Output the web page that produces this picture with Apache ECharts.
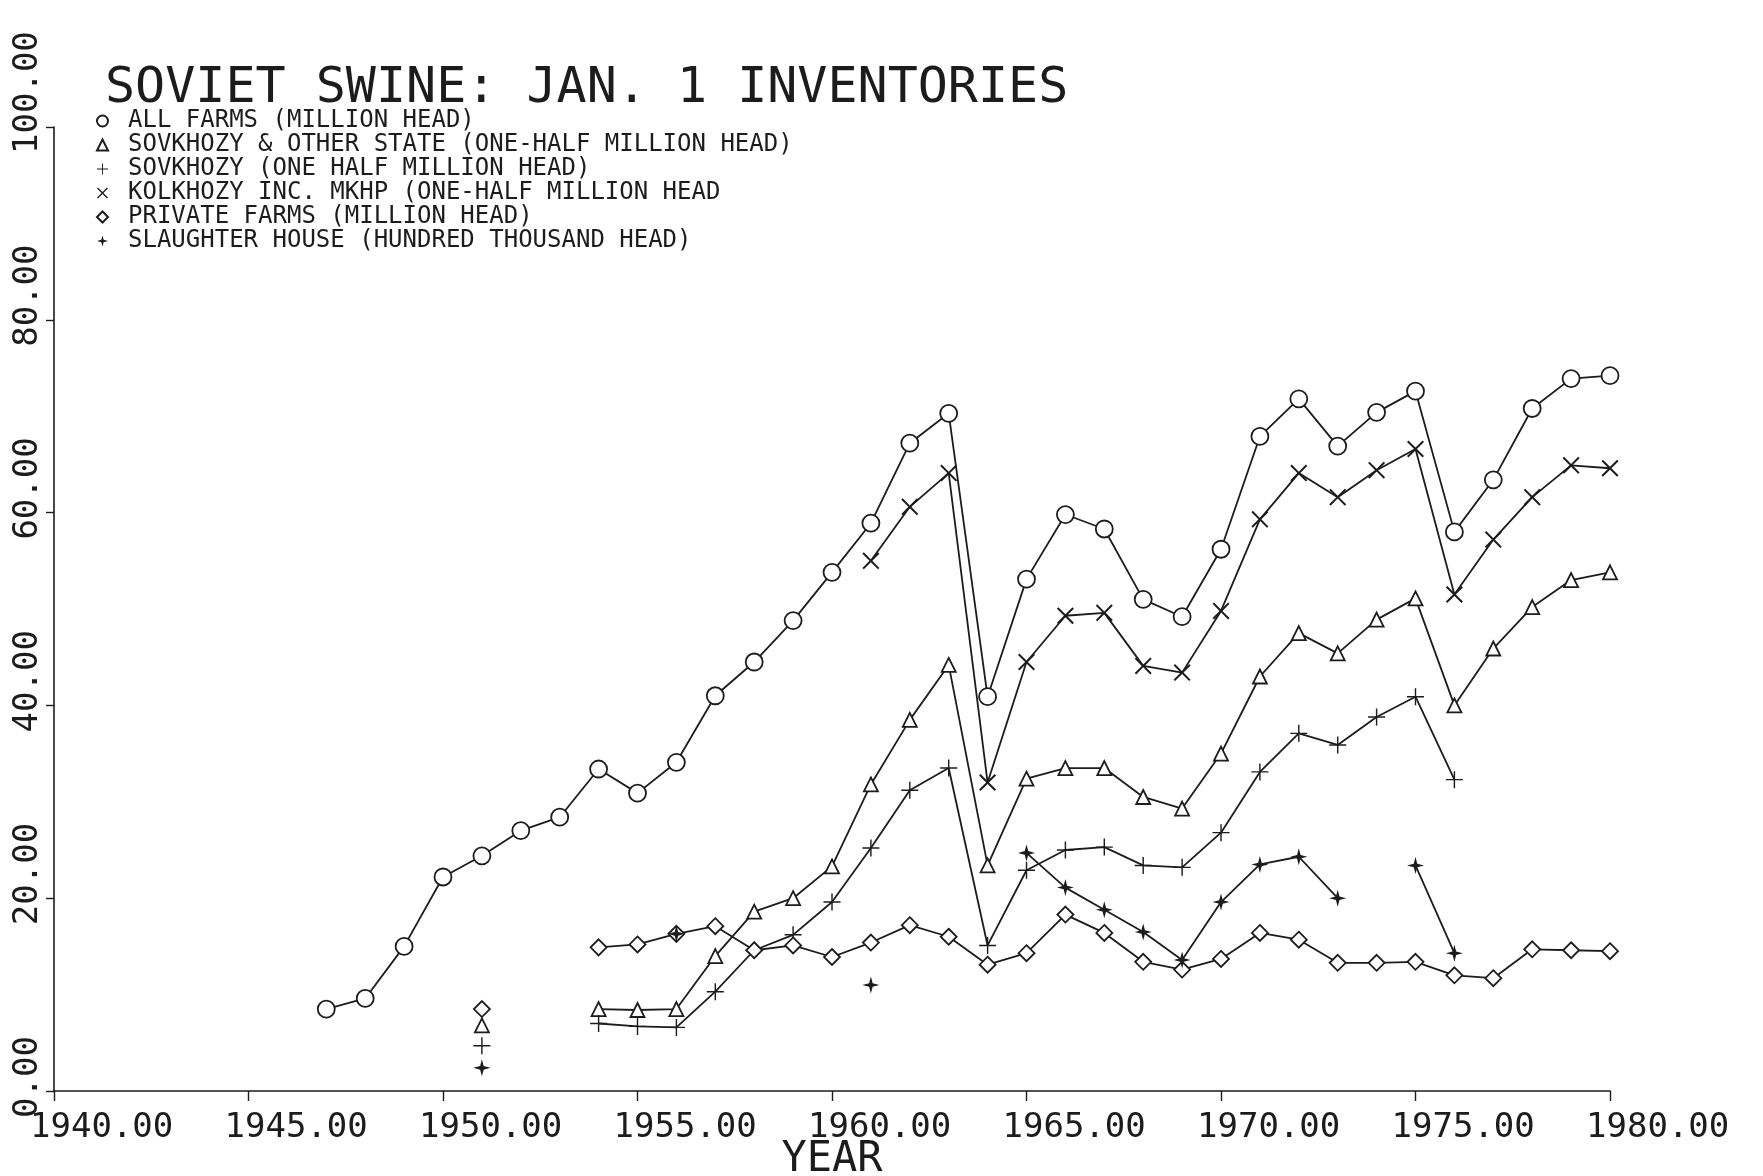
<!DOCTYPE html>
<html>
<head>
<meta charset="utf-8">
<title>Soviet Swine: Jan. 1 Inventories</title>
<script src="https://cdn.jsdelivr.net/npm/echarts@6/dist/echarts.min.js"></script>
<style>
  html, body { margin: 0; padding: 0; background: #fff; }
  #chart { width: 1763px; height: 1176px; }
</style>
</head>
<body>
<div id="chart"></div>
<script>
// January 1 swine inventories, 1947-1980 (null = not reported)
const YEARS = [1947, 1948, 1949, 1950, 1951, 1952, 1953, 1954, 1955, 1956,
               1957, 1958, 1959, 1960, 1961, 1962, 1963, 1964, 1965, 1966,
               1967, 1968, 1969, 1970, 1971, 1972, 1973, 1974, 1975, 1976,
               1977, 1978, 1979, 1980];

// million head
const ALL_FARMS = [8.5, 9.6, 15.0, 22.2, 24.4, 27.0, 28.4, 33.4, 30.9, 34.1,
                   41.0, 44.5, 48.8, 53.8, 58.9, 67.2, 70.3, 40.9, 53.1, 59.8,
                   58.3, 51.0, 49.2, 56.2, 67.9, 71.8, 66.9, 70.4, 72.6, 58.0,
                   63.4, 70.8, 73.9, 74.2];

// one-half million head
const SOVKHOZY_STATE = [null, null, null, null, 6.8, null, null, 8.5, 8.4, 8.5,
                        14.0, 18.6, 20.0, 23.3, 31.8, 38.5, 44.2, 23.4, 32.4, 33.5,
                        33.5, 30.5, 29.3, 35.0, 43.0, 47.5, 45.4, 48.9, 51.1, 40.0,
                        45.9, 50.2, 53.0, 53.8];

// one-half million head
const SOVKHOZY = [null, null, null, null, 4.7, null, null, 7.0, 6.7, 6.6,
                  10.3, 14.6, 16.2, 19.6, 25.2, 31.2, 33.5, 15.1, 22.9, 25.0,
                  25.3, 23.4, 23.2, 26.8, 33.1, 37.1, 35.9, 38.8, 40.9, 32.3,
                  null, null, null, null];

// one-half million head
const KOLKHOZY = [null, null, null, null, null, null, null, null, null, null,
                  null, null, null, null, 55.0, 60.6, 64.1, 32.0, 44.5, 49.3,
                  49.6, 44.1, 43.4, 49.8, 59.3, 64.1, 61.6, 64.4, 66.6, 51.5,
                  57.2, 61.6, 64.9, 64.6];

// million head
const PRIVATE_FARMS = [null, null, null, null, 8.5, null, null, 14.9, 15.2, 16.3,
                       17.1, 14.6, 15.1, 13.9, 15.4, 17.2, 16.0, 13.1, 14.3, 18.3,
                       16.4, 13.4, 12.6, 13.7, 16.4, 15.7, 13.3, 13.3, 13.4, 12.0,
                       11.7, 14.7, 14.6, 14.5];

// hundred thousand head
const SLAUGHTER = [null, null, null, null, 2.4, null, null, null, null, 16.3,
                   null, null, null, null, 11.0, null, null, null, 24.7, 21.1,
                   18.8, 16.5, 13.6, 19.6, 23.5, 24.3, 20.0, null, 23.4, 14.3,
                   null, null, null, null];

const TITLE = 'SOVIET SWINE: JAN. 1 INVENTORIES';
const NAMES = [
  'ALL FARMS (MILLION HEAD)',
  'SOVKHOZY & OTHER STATE (ONE-HALF MILLION HEAD)',
  'SOVKHOZY (ONE HALF MILLION HEAD)',
  'KOLKHOZY INC. MKHP (ONE-HALF MILLION HEAD',
  'PRIVATE FARMS (MILLION HEAD)',
  'SLAUGHTER HOUSE (HUNDRED THOUSAND HEAD)'
];

const INK = '#1c1c1c';
const MONO = '"DejaVu Sans Mono", "Liberation Mono", monospace';

// plotter-style marker shapes
const SYM_X = 'path://M2,0 L12,10 L22,0 L24,2 L14,12 L24,22 L22,24 L12,14 L2,24 L0,22 L10,12 L0,2 Z';
const SYM_PLUS = 'path://M11,0 H13 V11 H24 V13 H13 V24 H11 V13 H0 V11 H11 Z';
const SYM_STAR = 'path://M12,0 L14.5,9.5 L24,12 L14.5,14.5 L12,24 L9.5,14.5 L0,12 L9.5,9.5 Z';

const hollow = { color: '#fff', borderColor: INK, borderWidth: 1.8 };
const solid = { color: INK, borderWidth: 0 };

function pairs(values) {
  return YEARS.map((y, i) => [y, values[i]]);
}

const SPECS = [
  { values: ALL_FARMS,      symbol: 'circle',   size: 17, style: hollow },
  { values: SOVKHOZY_STATE, symbol: 'triangle', size: 14, style: hollow },
  { values: SOVKHOZY,       symbol: SYM_PLUS,   size: 17, style: solid },
  { values: KOLKHOZY,       symbol: SYM_X,      size: 17, style: solid },
  { values: PRIVATE_FARMS,  symbol: 'diamond',  size: 16, style: hollow },
  { values: SLAUGHTER,      symbol: SYM_STAR,   size: 17, style: solid }
];

const series = SPECS.map((s, i) => ({
  name: NAMES[i],
  type: 'line',
  data: pairs(s.values),
  symbol: s.symbol,
  symbolSize: s.size,
  showSymbol: true,
  connectNulls: false,
  itemStyle: s.style,
  lineStyle: { color: INK, width: 1.8 },
  emphasis: { disabled: true },
  z: 2 + i
}));

const chart = echarts.init(document.getElementById('chart'), null, { renderer: 'canvas' });

chart.setOption({
  backgroundColor: '#ffffff',
  animation: false,
  title: {
    text: TITLE,
    left: 100,
    top: 59,
    textStyle: { fontFamily: MONO, fontSize: 50, fontWeight: 'normal', color: INK }
  },
  legend: {
    orient: 'vertical',
    left: 91,
    top: 104,
    itemWidth: 11,
    itemHeight: 11,
    itemGap: 0,
    selectedMode: false,
    textStyle: { fontFamily: MONO, fontSize: 24, color: INK, lineHeight: 22, padding: [0, 0, 0, 15] },
    data: NAMES.map((n, i) => ({ name: n, icon: SPECS[i].symbol }))
  },
  grid: { left: 54, right: 153, top: 127, bottom: 85, containLabel: false, outerBoundsMode: 'none' },
  xAxis: {
    type: 'value',
    min: 1940,
    max: 1980,
    interval: 5,
    name: 'YEAR',
    nameLocation: 'middle',
    nameGap: 48,
    nameMoveOverlap: false,
    nameTextStyle: { fontFamily: MONO, fontSize: 42, color: INK },
    axisLine: { lineStyle: { color: INK, width: 1.6 } },
    axisTick: { inside: false, length: 10, lineStyle: { color: INK, width: 1.4 } },
    splitLine: { show: false },
    axisLabel: {
      fontFamily: MONO,
      fontSize: 34,
      color: INK,
      margin: 20,
      align: 'left',
      padding: [0, 0, 0, -24],
      formatter: v => v.toFixed(2)
    }
  },
  yAxis: {
    type: 'value',
    min: 0,
    max: 100,
    interval: 20,
    axisLine: { show: true, lineStyle: { color: INK, width: 1.6 } },
    axisTick: { show: true, inside: false, length: 8, lineStyle: { color: INK, width: 1.4 } },
    splitLine: { show: false },
    axisLabel: {
      fontFamily: MONO,
      fontSize: 34,
      color: INK,
      rotate: 90,
      margin: 9,
      align: 'left',
      verticalAlign: 'bottom',
      padding: [0, 0, 0, -27],
      formatter: v => v.toFixed(2)
    }
  },
  series: series
});
</script>
</body>
</html>
